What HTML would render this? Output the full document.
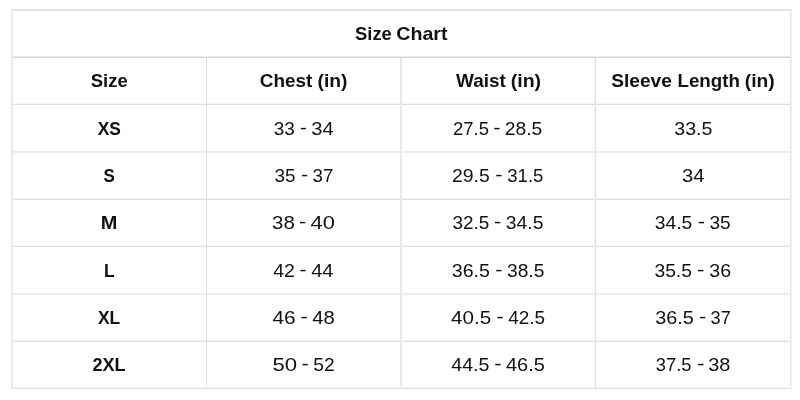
<!DOCTYPE html>
<html><head><meta charset="utf-8"><title>Size Chart</title>
<style>
html,body{margin:0;padding:0;background:#fff;}
body{width:800px;height:400px;overflow:hidden;position:relative;will-change:transform;}
svg{position:absolute;left:0;top:0;display:block;}
text{font-family:"Liberation Sans",sans-serif;fill:#111;white-space:pre;}
.b{font-weight:bold;font-size:18.5px;}
.n{font-size:19.0px;}
</style></head><body>
<svg width="800" height="400" viewBox="0 0 800 400">
<g shape-rendering="crispEdges">
<rect x="11" y="9" width="781" height="1" fill="#e2e2e2"/>
<rect x="11" y="10" width="781" height="1" fill="#e4e4e4"/>
<rect x="11" y="56" width="781" height="1" fill="#ebebeb"/>
<rect x="11" y="57" width="781" height="1" fill="#d5d5d5"/>
<rect x="11" y="103" width="781" height="1" fill="#f4f5f5"/>
<rect x="11" y="104" width="781" height="1" fill="#dbdfe0"/>
<rect x="11" y="151" width="781" height="1" fill="#e8ebeb"/>
<rect x="11" y="152" width="781" height="1" fill="#edefef"/>
<rect x="11" y="198" width="781" height="1" fill="#f2f3f3"/>
<rect x="11" y="199" width="781" height="1" fill="#dee1e2"/>
<rect x="11" y="245" width="781" height="1" fill="#f6f6f6"/>
<rect x="11" y="246" width="781" height="1" fill="#dadedf"/>
<rect x="11" y="293" width="781" height="1" fill="#e8ebeb"/>
<rect x="11" y="294" width="781" height="1" fill="#edefef"/>
<rect x="11" y="340" width="781" height="1" fill="#f2f3f3"/>
<rect x="11" y="341" width="781" height="1" fill="#dee1e2"/>
<rect x="11" y="387" width="781" height="1" fill="#f4f5f5"/>
<rect x="11" y="388" width="781" height="1" fill="#dadddd"/>
<rect x="11" y="9" width="1" height="380" fill="#e9ebeb"/>
<rect x="12" y="9" width="1" height="380" fill="#e7e9ea"/>
<rect x="206" y="58" width="1" height="331" fill="#dde1e2"/>
<rect x="400" y="58" width="1" height="331" fill="#e6e9e8"/>
<rect x="401" y="58" width="1" height="331" fill="#eaecec"/>
<rect x="594" y="58" width="1" height="331" fill="#f6f7f7"/>
<rect x="595" y="58" width="1" height="331" fill="#dde0e1"/>
<rect x="790" y="9" width="1" height="380" fill="#e3e5e4"/>
<rect x="791" y="9" width="1" height="380" fill="#f1f3f2"/>
</g>
<text class="b" y="40.00"><tspan x="355.00" textLength="36.88" lengthAdjust="spacingAndGlyphs">Size</tspan> <tspan x="396.25" textLength="51.28" lengthAdjust="spacingAndGlyphs">Chart</tspan></text>
<text class="b" y="87.00"><tspan x="90.75" textLength="36.93" lengthAdjust="spacingAndGlyphs">Size</tspan></text>
<text class="b" y="87.00"><tspan x="259.75" textLength="52.58" lengthAdjust="spacingAndGlyphs">Chest</tspan> <tspan x="317.50" textLength="29.99" lengthAdjust="spacingAndGlyphs">(in)</tspan></text>
<text class="b" y="87.00"><tspan x="456.00" textLength="49.77" lengthAdjust="spacingAndGlyphs">Waist</tspan> <tspan x="510.75" textLength="30.38" lengthAdjust="spacingAndGlyphs">(in)</tspan></text>
<text class="b" y="87.00"><tspan x="611.25" textLength="60.58" lengthAdjust="spacingAndGlyphs">Sleeve</tspan> <tspan x="677.50" textLength="62.44" lengthAdjust="spacingAndGlyphs">Length</tspan> <tspan x="744.75" textLength="29.94" lengthAdjust="spacingAndGlyphs">(in)</tspan></text>
<text class="b" y="135.00"><tspan x="97.75" textLength="23.18" lengthAdjust="spacingAndGlyphs">XS</tspan></text>
<text class="b" y="182.00"><tspan x="103.50" textLength="11.28" lengthAdjust="spacingAndGlyphs">S</tspan></text>
<text class="b" y="229.00"><tspan x="100.75" textLength="16.61" lengthAdjust="spacingAndGlyphs">M</tspan></text>
<text class="b" y="277.00"><tspan x="104.00" textLength="10.66" lengthAdjust="spacingAndGlyphs">L</tspan></text>
<text class="b" y="324.00"><tspan x="98.00" textLength="22.24" lengthAdjust="spacingAndGlyphs">XL</tspan></text>
<text class="b" y="371.00"><tspan x="92.50" textLength="33.16" lengthAdjust="spacingAndGlyphs">2XL</tspan></text>
<text class="n" y="135.00"><tspan x="674.25" textLength="38.20" lengthAdjust="spacingAndGlyphs">33.5</tspan></text>
<text class="n" y="182.00"><tspan x="682.00" textLength="22.48" lengthAdjust="spacingAndGlyphs">34</tspan></text>
<text class="n" y="135.00"><tspan x="273.75" y="135.00" textLength="21.14" lengthAdjust="spacingAndGlyphs">33</tspan> <tspan x="300.00" y="134.00" textLength="6.80" lengthAdjust="spacingAndGlyphs">-</tspan> <tspan x="311.25" y="135.00" textLength="22.43" lengthAdjust="spacingAndGlyphs">34</tspan></text>
<text class="n" y="182.00"><tspan x="274.50" y="182.00" textLength="21.04" lengthAdjust="spacingAndGlyphs">35</tspan> <tspan x="301.00" y="181.00" textLength="7.07" lengthAdjust="spacingAndGlyphs">-</tspan> <tspan x="312.50" y="182.00" textLength="20.84" lengthAdjust="spacingAndGlyphs">37</tspan></text>
<text class="n" y="229.00"><tspan x="272.00" y="229.00" textLength="22.77" lengthAdjust="spacingAndGlyphs">38</tspan> <tspan x="299.00" y="228.00" textLength="7.07" lengthAdjust="spacingAndGlyphs">-</tspan> <tspan x="310.50" y="229.00" textLength="24.31" lengthAdjust="spacingAndGlyphs">40</tspan></text>
<text class="n" y="277.00"><tspan x="273.25" y="277.00" textLength="21.73" lengthAdjust="spacingAndGlyphs">42</tspan> <tspan x="299.50" y="276.00" textLength="7.01" lengthAdjust="spacingAndGlyphs">-</tspan> <tspan x="311.25" y="277.00" textLength="22.25" lengthAdjust="spacingAndGlyphs">44</tspan></text>
<text class="n" y="324.00"><tspan x="272.50" y="324.00" textLength="23.23" lengthAdjust="spacingAndGlyphs">46</tspan> <tspan x="300.50" y="323.00" textLength="7.29" lengthAdjust="spacingAndGlyphs">-</tspan> <tspan x="312.25" y="324.00" textLength="22.54" lengthAdjust="spacingAndGlyphs">48</tspan></text>
<text class="n" y="371.00"><tspan x="272.50" y="371.00" textLength="24.68" lengthAdjust="spacingAndGlyphs">50</tspan> <tspan x="301.50" y="370.00" textLength="7.29" lengthAdjust="spacingAndGlyphs">-</tspan> <tspan x="313.25" y="371.00" textLength="21.36" lengthAdjust="spacingAndGlyphs">52</tspan></text>
<text class="n" y="135.00"><tspan x="453.00" y="135.00" textLength="35.94" lengthAdjust="spacingAndGlyphs">27.5</tspan> <tspan x="493.25" y="134.00" textLength="7.34" lengthAdjust="spacingAndGlyphs">-</tspan> <tspan x="504.75" y="135.00" textLength="37.51" lengthAdjust="spacingAndGlyphs">28.5</tspan></text>
<text class="n" y="182.00"><tspan x="452.00" y="182.00" textLength="37.77" lengthAdjust="spacingAndGlyphs">29.5</tspan> <tspan x="495.25" y="181.00" textLength="7.20" lengthAdjust="spacingAndGlyphs">-</tspan> <tspan x="507.25" y="182.00" textLength="36.10" lengthAdjust="spacingAndGlyphs">31.5</tspan></text>
<text class="n" y="229.00"><tspan x="452.50" y="229.00" textLength="36.88" lengthAdjust="spacingAndGlyphs">32.5</tspan> <tspan x="494.00" y="228.00" textLength="7.26" lengthAdjust="spacingAndGlyphs">-</tspan> <tspan x="505.75" y="229.00" textLength="37.66" lengthAdjust="spacingAndGlyphs">34.5</tspan></text>
<text class="n" y="277.00"><tspan x="451.75" y="277.00" textLength="38.20" lengthAdjust="spacingAndGlyphs">36.5</tspan> <tspan x="495.25" y="276.00" textLength="7.20" lengthAdjust="spacingAndGlyphs">-</tspan> <tspan x="507.00" y="277.00" textLength="37.40" lengthAdjust="spacingAndGlyphs">38.5</tspan></text>
<text class="n" y="324.00"><tspan x="451.00" y="324.00" textLength="40.09" lengthAdjust="spacingAndGlyphs">40.5</tspan> <tspan x="496.50" y="323.00" textLength="7.26" lengthAdjust="spacingAndGlyphs">-</tspan> <tspan x="508.25" y="324.00" textLength="36.83" lengthAdjust="spacingAndGlyphs">42.5</tspan></text>
<text class="n" y="371.00"><tspan x="451.25" y="371.00" textLength="38.18" lengthAdjust="spacingAndGlyphs">44.5</tspan> <tspan x="494.25" y="370.00" textLength="7.36" lengthAdjust="spacingAndGlyphs">-</tspan> <tspan x="506.00" y="371.00" textLength="38.79" lengthAdjust="spacingAndGlyphs">46.5</tspan></text>
<text class="n" y="229.00"><tspan x="654.75" y="229.00" textLength="37.51" lengthAdjust="spacingAndGlyphs">34.5</tspan> <tspan x="697.75" y="228.00" textLength="7.20" lengthAdjust="spacingAndGlyphs">-</tspan> <tspan x="709.50" y="229.00" textLength="21.25" lengthAdjust="spacingAndGlyphs">35</tspan></text>
<text class="n" y="277.00"><tspan x="654.50" y="277.00" textLength="37.40" lengthAdjust="spacingAndGlyphs">35.5</tspan> <tspan x="697.00" y="276.00" textLength="7.48" lengthAdjust="spacingAndGlyphs">-</tspan> <tspan x="709.25" y="277.00" textLength="21.85" lengthAdjust="spacingAndGlyphs">36</tspan></text>
<text class="n" y="324.00"><tspan x="655.25" y="324.00" textLength="38.66" lengthAdjust="spacingAndGlyphs">36.5</tspan> <tspan x="699.00" y="323.00" textLength="7.26" lengthAdjust="spacingAndGlyphs">-</tspan> <tspan x="710.50" y="324.00" textLength="20.27" lengthAdjust="spacingAndGlyphs">37</tspan></text>
<text class="n" y="371.00"><tspan x="655.75" y="371.00" textLength="35.68" lengthAdjust="spacingAndGlyphs">37.5</tspan> <tspan x="697.00" y="370.00" textLength="7.48" lengthAdjust="spacingAndGlyphs">-</tspan> <tspan x="708.25" y="371.00" textLength="22.22" lengthAdjust="spacingAndGlyphs">38</tspan></text>
</svg>
</body></html>
